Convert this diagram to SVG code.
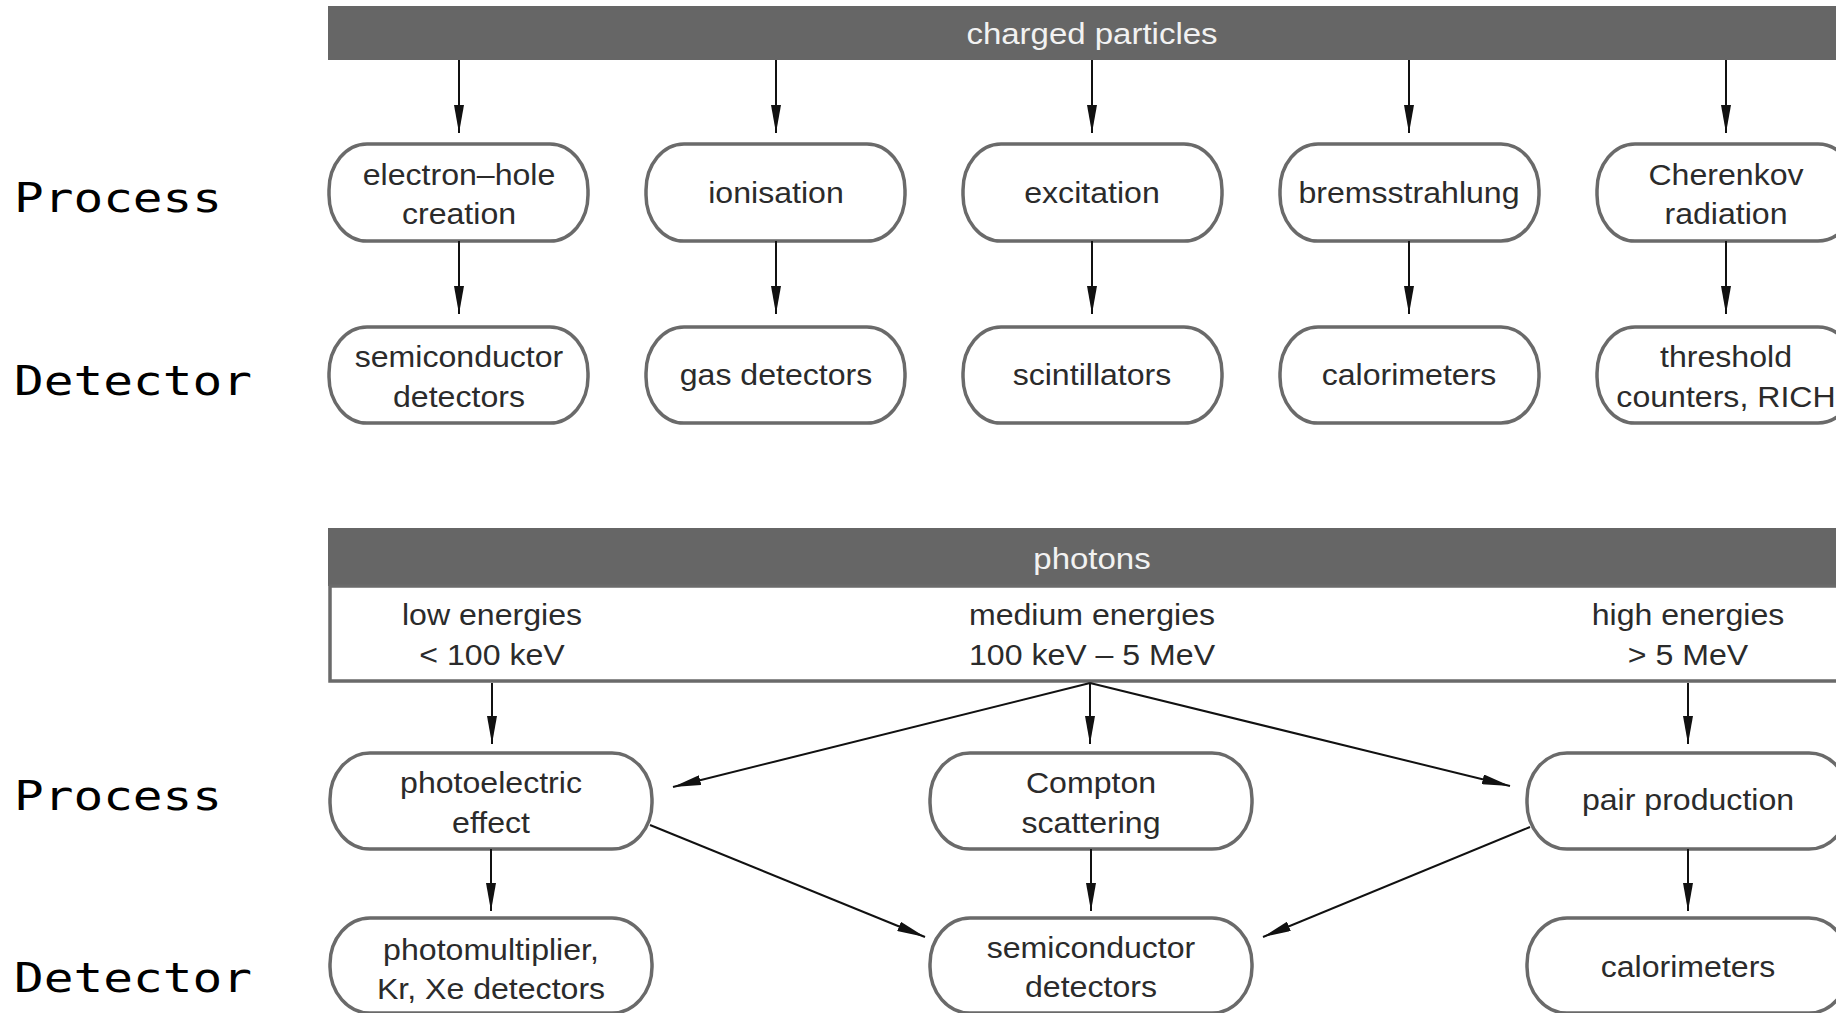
<svg xmlns="http://www.w3.org/2000/svg" width="1836" height="1013" viewBox="0 0 1836 1013">
<style>
.hdr{fill:#666666}
.hdrt{font-family:"Liberation Sans",Arial,sans-serif;font-size:30px;fill:#f2f2f2;text-anchor:middle}
.box{fill:#ffffff;stroke:#6a6a6a;stroke-width:3.5}
.t{font-family:"Liberation Sans",Arial,sans-serif;font-size:30px;fill:#2b2b2b;text-anchor:middle}
.lab{font-family:"DejaVu Sans Mono",monospace;font-size:41px;fill:#000000}
.c{stroke:#111111;stroke-width:2;fill:none;marker-end:url(#ah)}
</style>
<defs>
<marker id="ah" viewBox="0 0 28 10" refX="28" refY="5" markerWidth="28" markerHeight="10" markerUnits="userSpaceOnUse" orient="auto">
<path d="M0,0 L28,5 L0,10 z" fill="#111111"/>
</marker>
</defs>
<rect width="1836" height="1013" fill="#ffffff"/>

<g id="labels">
<text class="lab" x="14" y="212" textLength="208" lengthAdjust="spacingAndGlyphs">Process</text>
<text class="lab" x="14" y="395" textLength="238" lengthAdjust="spacingAndGlyphs">Detector</text>
<text class="lab" x="14" y="810" textLength="208" lengthAdjust="spacingAndGlyphs">Process</text>
<text class="lab" x="14" y="992" textLength="238" lengthAdjust="spacingAndGlyphs">Detector</text>
</g>

<g id="charged-particles">
<rect class="hdr" x="328" y="6" width="1520" height="54"/>
<text class="hdrt" transform="translate(1092,44) scale(1.1,1)">charged particles</text>
</g>

<g id="electron-hole">
<rect class="box" x="329" y="144" width="259" height="97" rx="38" ry="46"/>
<text class="t" transform="translate(459,185) scale(1.07,1)"><tspan x="0" y="0">electron–hole</tspan><tspan x="0" y="39">creation</tspan></text>
</g>
<g id="ionisation">
<rect class="box" x="646" y="144" width="259" height="97" rx="38" ry="46"/>
<text class="t" transform="translate(776,203) scale(1.07,1)">ionisation</text>
</g>
<g id="excitation">
<rect class="box" x="963" y="144" width="259" height="97" rx="38" ry="46"/>
<text class="t" transform="translate(1092,203) scale(1.07,1)">excitation</text>
</g>
<g id="bremsstrahlung">
<rect class="box" x="1280" y="144" width="259" height="97" rx="38" ry="46"/>
<text class="t" transform="translate(1409,203) scale(1.07,1)">bremsstrahlung</text>
</g>
<g id="cherenkov">
<rect class="box" x="1597" y="144" width="259" height="97" rx="38" ry="46"/>
<text class="t" transform="translate(1726,185) scale(1.07,1)"><tspan x="0" y="0">Cherenkov</tspan><tspan x="0" y="39">radiation</tspan></text>
</g>

<g id="semiconductor-1">
<rect class="box" x="329" y="327" width="259" height="96" rx="38" ry="46"/>
<text class="t" transform="translate(459,367) scale(1.07,1)"><tspan x="0" y="0">semiconductor</tspan><tspan x="0" y="40">detectors</tspan></text>
</g>
<g id="gas-detectors">
<rect class="box" x="646" y="327" width="259" height="96" rx="38" ry="46"/>
<text class="t" transform="translate(776,385) scale(1.07,1)">gas detectors</text>
</g>
<g id="scintillators">
<rect class="box" x="963" y="327" width="259" height="96" rx="38" ry="46"/>
<text class="t" transform="translate(1092,385) scale(1.07,1)">scintillators</text>
</g>
<g id="calorimeters-1">
<rect class="box" x="1280" y="327" width="259" height="96" rx="38" ry="46"/>
<text class="t" transform="translate(1409,385) scale(1.07,1)">calorimeters</text>
</g>
<g id="threshold">
<rect class="box" x="1597" y="327" width="259" height="96" rx="38" ry="46"/>
<text class="t" transform="translate(1726,367) scale(1.07,1)"><tspan x="0" y="0">threshold</tspan><tspan x="0" y="40">counters, RICH</tspan></text>
</g>

<g id="photons">
<rect class="hdr" x="328" y="528" width="1520" height="58"/>
<text class="hdrt" transform="translate(1092,569) scale(1.1,1)">photons</text>
<rect x="330" y="586" width="1520" height="95" fill="#ffffff" stroke="#6a6a6a" stroke-width="3.5"/>
<text class="t" transform="translate(492,625) scale(1.07,1)"><tspan x="0" y="0">low energies</tspan><tspan x="0" y="40">&lt;  100 keV</tspan></text>
<text class="t" transform="translate(1092,625) scale(1.07,1)"><tspan x="0" y="0">medium energies</tspan><tspan x="0" y="40">100 keV – 5 MeV</tspan></text>
<text class="t" transform="translate(1688,625) scale(1.07,1)"><tspan x="0" y="0">high energies</tspan><tspan x="0" y="40">&gt; 5 MeV</tspan></text>
</g>

<g id="photoelectric">
<rect class="box" x="330" y="753" width="322" height="96" rx="40" ry="46"/>
<text class="t" transform="translate(491,793) scale(1.07,1)"><tspan x="0" y="0">photoelectric</tspan><tspan x="0" y="40">effect</tspan></text>
</g>
<g id="compton">
<rect class="box" x="930" y="753" width="322" height="96" rx="40" ry="46"/>
<text class="t" transform="translate(1091,793) scale(1.07,1)"><tspan x="0" y="0">Compton</tspan><tspan x="0" y="40">scattering</tspan></text>
</g>
<g id="pair-production">
<rect class="box" x="1527" y="753" width="322" height="96" rx="40" ry="46"/>
<text class="t" transform="translate(1688,810) scale(1.07,1)">pair production</text>
</g>

<g id="photomultiplier">
<rect class="box" x="330" y="918" width="322" height="95" rx="40" ry="46"/>
<text class="t" transform="translate(491,960) scale(1.07,1)"><tspan x="0" y="0">photomultiplier,</tspan><tspan x="0" y="39">Kr, Xe detectors</tspan></text>
</g>
<g id="semiconductor-2">
<rect class="box" x="930" y="918" width="322" height="95" rx="40" ry="46"/>
<text class="t" transform="translate(1091,958) scale(1.07,1)"><tspan x="0" y="0">semiconductor</tspan><tspan x="0" y="39">detectors</tspan></text>
</g>
<g id="calorimeters-2">
<rect class="box" x="1527" y="918" width="322" height="95" rx="40" ry="46"/>
<text class="t" transform="translate(1688,977) scale(1.07,1)">calorimeters</text>
</g>

<g id="connectors">
<line class="c" x1="459" y1="60" x2="459" y2="133"/>
<line class="c" x1="776" y1="60" x2="776" y2="133"/>
<line class="c" x1="1092" y1="60" x2="1092" y2="133"/>
<line class="c" x1="1409" y1="60" x2="1409" y2="133"/>
<line class="c" x1="1726" y1="60" x2="1726" y2="133"/>
<line class="c" x1="459" y1="241" x2="459" y2="314"/>
<line class="c" x1="776" y1="241" x2="776" y2="314"/>
<line class="c" x1="1092" y1="241" x2="1092" y2="314"/>
<line class="c" x1="1409" y1="241" x2="1409" y2="314"/>
<line class="c" x1="1726" y1="241" x2="1726" y2="314"/>
<line class="c" x1="492" y1="683" x2="492" y2="744"/>
<line class="c" x1="1090" y1="683" x2="1090" y2="744"/>
<line class="c" x1="1688" y1="683" x2="1688" y2="744"/>
<line class="c" x1="1090" y1="683" x2="673" y2="787"/>
<line class="c" x1="1090" y1="683" x2="1510" y2="786"/>
<line class="c" x1="491" y1="849" x2="491" y2="911"/>
<line class="c" x1="1091" y1="849" x2="1091" y2="911"/>
<line class="c" x1="1688" y1="849" x2="1688" y2="911"/>
<line class="c" x1="650" y1="825" x2="925" y2="937"/>
<line class="c" x1="1530" y1="827" x2="1263" y2="937"/>
</g>
</svg>
